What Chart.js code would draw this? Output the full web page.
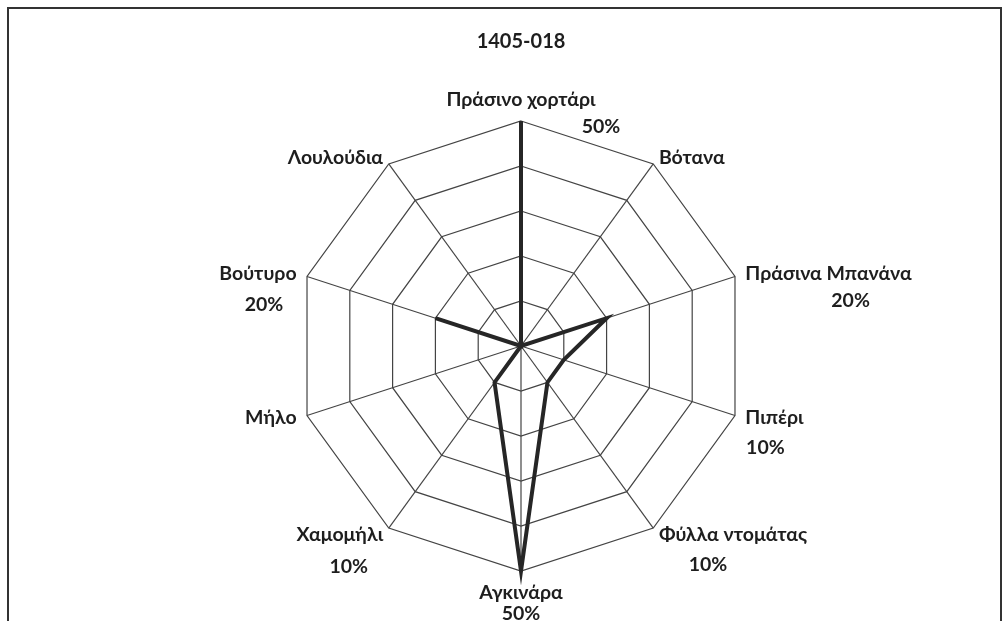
<!DOCTYPE html>
<html lang="el">
<head>
<meta charset="UTF-8">
<title>1405-018</title>
<script src="https://cdn.jsdelivr.net/npm/chart.js"></script>
<style>
  html, body { margin: 0; padding: 0; background: #fff; }
  #wrap { position: relative; width: 1007px; height: 622px; }
  #frame { position: absolute; left: 7px; top: 7px; width: 991px; height: 612px;
           border: 2px solid #333; border-bottom: none; pointer-events: none; }
</style>
</head>
<body>
<div id="wrap">
  <canvas id="radar" width="1007" height="622"></canvas>
  <div id="frame"></div>
</div>
<script>
// aroma categories, clockwise from the top
const aromas = ['Πράσινο χορτάρι', 'Βότανα', 'Πράσινα Μπανάνα', 'Πιπέρι', 'Φύλλα ντομάτας',
                'Αγκινάρα', 'Χαμομήλι', 'Μήλο', 'Βούτυρο', 'Λουλούδια'];
const shares = [50, 0, 20, 10, 10, 50, 10, 0, 20, 0]; // percent
const scaleMax = 50;
const scaleStep = 10;

const FONT = 'Lato, "Noto Sans", sans-serif';
const LABEL_FONT = 'bold 19.5px ' + FONT;

// nudges for the % labels (Excel placed them by hand-ish)
const valueNudge = { 0: [80, 27], 2: [22, 27], 3: [-9, 30], 4: [-25, 30], 5: [0, 21], 6: [9, 32], 8: [6, 31] };

// category names + percentages, placed Excel-style around the web
const axisLabels = {
  id: 'axisLabels',
  afterDraw(chart) {
    const scale = chart.scales.r;
    const ctx = chart.ctx;
    ctx.save();
    ctx.font = LABEL_FONT;
    ctx.fillStyle = '#1e1e1e';
    ctx.textBaseline = 'middle';
    aromas.forEach((name, i) => {
      const p = scale.getPointPosition(i, scale.drawingArea);
      const a = scale.getIndexAngle(i);
      const s = Math.sin(a), c = Math.cos(a);
      const w = ctx.measureText(name).width;
      let cx, cy;
      if (Math.abs(s) < 0.01) {
        cx = p.x;
        cy = c > 0 ? p.y - 21 : p.y + 22;
      } else {
        const dx = 13 * Math.abs(s) - 2;
        cx = s > 0 ? p.x + dx + w / 2 : p.x - dx - w / 2;
        cy = p.y - c * 8;
      }
      ctx.textAlign = 'center';
      ctx.fillText(name, cx, cy);
      if (shares[i]) {
        const n = valueNudge[i] || [0, 28];
        ctx.fillText(shares[i] + '%', cx + n[0], cy + n[1]);
      }
    });
    ctx.restore();
  }
};

new Chart(document.getElementById('radar'), {
  type: 'radar',
  data: {
    labels: aromas,
    datasets: [{
      label: '1405-018',
      data: shares,
      borderColor: '#262626',
      borderWidth: 4,
      fill: false,
      pointRadius: 0,
      tension: 0
    }]
  },
  options: {
    responsive: false,
    animation: false,
    layout: { padding: { top: 0, bottom: 51, left: 35, right: 0 } },
    plugins: {
      legend: { display: false },
      tooltip: { enabled: false },
      title: {
        display: true,
        text: '1405-018',
        color: '#1e1e1e',
        font: { family: FONT, size: 20, weight: 'bold' },
        padding: { top: 30, bottom: 67 }
      }
    },
    scales: {
      r: {
        min: 0,
        max: scaleMax,
        ticks: { display: false, stepSize: scaleStep },
        grid: { color: '#444', lineWidth: 1.2 },
        angleLines: { color: '#444', lineWidth: 1.2 },
        pointLabels: { display: false }
      }
    }
  },
  plugins: [axisLabels]
});
</script>
</body>
</html>
